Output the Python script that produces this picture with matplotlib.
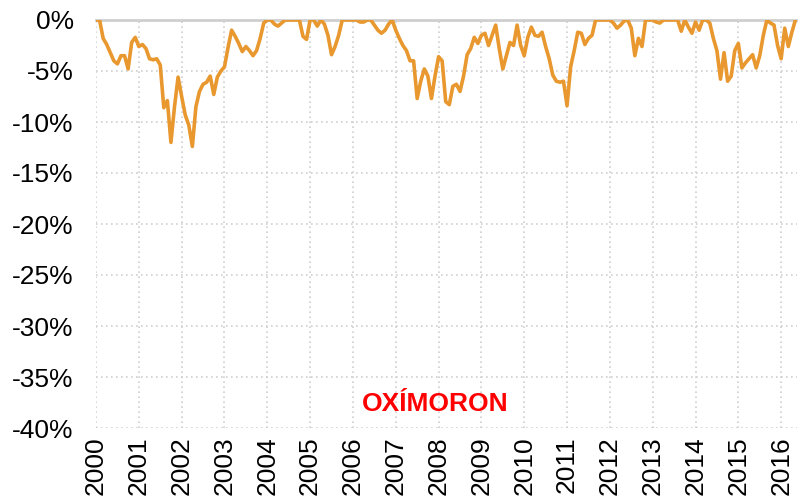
import matplotlib
matplotlib.use("Agg")
import matplotlib.pyplot as plt
import numpy as np

# Monthly drawdown (%) from Jan 2000 to May 2016
dd_2000 = [0, 0, -1.8, -2.4, -3.2, -4.0, -4.3, -3.5, -3.5, -4.8, -2.2, -1.7]
dd_2001 = [-2.6, -2.4, -2.8, -3.8, -3.9, -3.8, -4.4, -8.6, -7.9, -12.0, -8.5, -5.6]
dd_2002 = [-7.5, -9.3, -10.3, -12.4, -8.5, -7.0, -6.3, -6.1, -5.5, -7.3, -5.6, -5.0]
dd_2003 = [-4.6, -2.7, -1.0, -1.6, -2.3, -3.1, -2.6, -3.0, -3.5, -3.0, -1.8, -0.3]
dd_2004 = [0, 0, -0.4, -0.6, -0.3, 0, 0, 0, 0, 0, -1.6, -1.9]
dd_2005 = [0, 0, -0.6, 0, -0.4, -1.5, -3.4, -2.6, -1.5, 0, 0, 0]
dd_2006 = [0, 0, -0.2, -0.2, 0, 0, -0.5, -1.0, -1.3, -1.0, -0.4, 0]
dd_2007 = [-1.0, -1.8, -2.5, -3.0, -4.0, -4.0, -7.7, -6.0, -4.8, -5.5, -7.7, -5.5]
dd_2008 = [-3.6, -4.0, -8.0, -8.3, -6.5, -6.3, -7.0, -5.5, -3.4, -2.8, -1.7, -2.3]
dd_2009 = [-1.5, -1.3, -2.5, -1.5, -0.5, -2.8, -4.8, -3.5, -2.2, -2.5, -0.5, -2.5]
dd_2010 = [-3.5, -1.7, -0.7, -1.5, -1.6, -1.2, -2.6, -3.8, -5.4, -6.0, -6.1, -6.0]
dd_2011 = [-8.4, -4.6, -3.0, -1.2, -1.3, -2.4, -1.8, -1.5, 0, 0, 0, 0]
dd_2012 = [0, -0.3, -0.8, -0.5, -0.1, 0, -0.8, -3.5, -1.8, -2.6, 0, 0]
dd_2013 = [0, -0.2, -0.3, 0, 0, 0, 0, 0, -1.1, 0, -0.7, -1.3]
dd_2014 = [-0.2, -1.0, 0, 0, -0.3, -1.8, -3.0, -5.8, -3.2, -6.0, -5.5, -3.0]
dd_2015 = [-2.3, -4.7, -4.2, -3.8, -3.4, -4.7, -3.5, -1.5, 0, -0.3, -0.5, -2.5]
dd_2016 = [-3.8, -0.8, -2.6, -1.2, 0]

years = list(range(2000, 2017))
y_ticks = [0, -5, -10, -15, -20, -25, -30, -35, -40]
y_labels = ["0%", "-5%", "-10%", "-15%", "-20%", "-25%", "-30%", "-35%", "-40%"]
watermark = "OXÍMORON"

values = np.array(dd_2000 + dd_2001 + dd_2002 + dd_2003 + dd_2004 + dd_2005 +
                  dd_2006 + dd_2007 + dd_2008 + dd_2009 + dd_2010 + dd_2011 +
                  dd_2012 + dd_2013 + dd_2014 + dd_2015 + dd_2016)
t = 2000 + np.arange(len(values)) / 12.0

plt.rcParams['font.family'] = ['Liberation Sans', 'DejaVu Sans']

fig = plt.figure(figsize=(7.98, 4.99), dpi=100)
ax = fig.add_axes([96/798, 1 - 428/499, (797-96)/798, (428-20)/499])

ax.plot(t, values, color="#E8982E", lw=2.6, solid_joinstyle="round",
        solid_capstyle="round", zorder=3)

ax.set_xlim(2000, 2016.37)
ax.set_ylim(-40, 0)
ax.set_xticks(years)
ax.set_xticklabels([str(y) for y in years], rotation=90, fontsize=19)
ax.set_yticks(y_ticks)
ax.set_yticklabels(y_labels, fontsize=19)
ax.tick_params(length=0)
ax.tick_params(axis='y', pad=16)
ax.tick_params(axis='x', pad=6)

for v in y_ticks[1:]:
    ax.axhline(v, color="#CFCFCF", lw=1.2, ls=(0, (1, 2)), zorder=1)
for yv in years:
    ax.axvline(yv, color="#CFCFCF", lw=1.2, ls=(0, (1, 2)), zorder=1)
ax.axhline(0, color="#CFCFCF", lw=2, zorder=2, clip_on=False)

for s in ax.spines.values():
    s.set_visible(False)

ax.text(0.484, 0.06, watermark, transform=ax.transAxes, color="#FF0000",
        fontsize=19, fontweight="bold", ha="center", va="center")

fig.savefig("out.png", dpi=100)
